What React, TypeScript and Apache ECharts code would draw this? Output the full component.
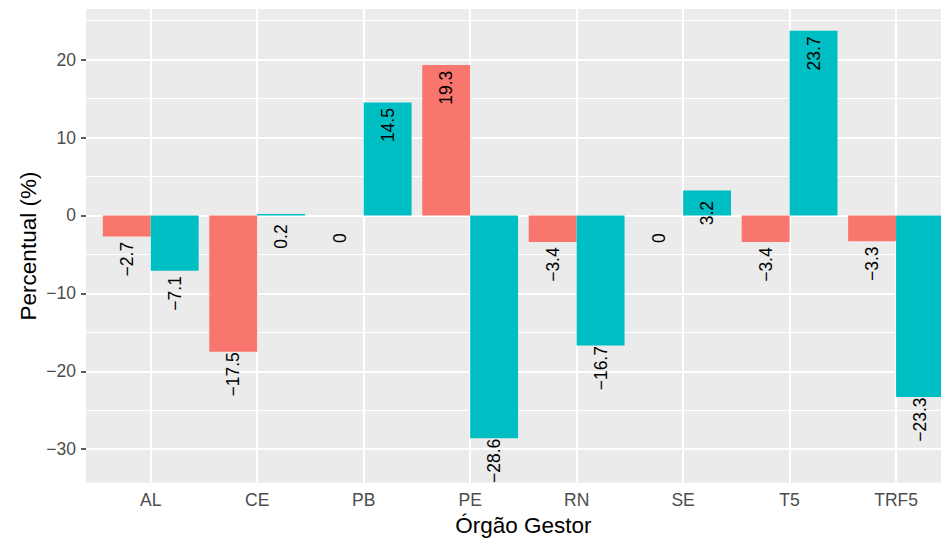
import React, { useEffect, useRef } from "react";
import * as echarts from "echarts";

const categories = ["AL", "CE", "PB", "PE", "RN", "SE", "T5", "TRF5"];
const seriesRed = [-2.7, -17.5, 0, 19.3, -3.4, 0, -3.4, -3.3];
const seriesTeal = [-7.1, 0.2, 14.5, -28.6, -16.7, 3.2, 23.7, -23.3];
const majorTicks = [-30, -20, -10, 0, 10, 20];
const minorTicks = [-25, -15, -5, 5, 15, 25];
const Y_MIN = -34.3;
const Y_MAX = 26.5;
const LABEL_NUDGE = 2.9;

const FONT = "'Liberation Sans', Arial, Helvetica, sans-serif";
const fmt = (v: number) => (v < 0 ? "\u2212" + Math.abs(v) : String(v));

export default function App() {
  const ref = useRef<HTMLDivElement>(null);
  useEffect(() => {
    if (!ref.current) return;
    const chart = echarts.init(ref.current, null, { renderer: "svg" });
    const labelData: number[][] = [];
    seriesRed.forEach((v, i) => labelData.push([i, v, 0]));
    seriesTeal.forEach((v, i) => labelData.push([i, v, 1]));

    const option: any = {
      animation: false,
      backgroundColor: "#FFFFFF",
      grid: [
        {
          left: 86,
          top: 9,
          right: -20,
          bottom: 57.3,
          show: true,
          backgroundColor: "#EBEBEB",
          borderWidth: 0,
          containLabel: false,
          outerBoundsMode: "none",
          z: 0,
        },
        {
          left: 97.5,
          top: 9,
          width: 851.8,
          bottom: 57.3,
          show: false,
          containLabel: false,
          outerBoundsMode: "none",
        },
      ],
      xAxis: [
        { gridIndex: 0, type: "value", min: 0, max: 1, show: false },
        {
          gridIndex: 1,
          type: "category",
          data: categories,
          boundaryGap: true,
          axisLine: { show: false },
          axisTick: {
            show: true,
            alignWithLabel: true,
            length: 4.5,
            lineStyle: { color: "#333333", width: 1.6 },
          },
          axisLabel: {
            color: "#4D4D4D",
            fontSize: 17.5,
            fontFamily: FONT,
            margin: 8,
          },
          splitLine: { show: false },
          name: "Órgão Gestor",
          nameLocation: "middle",
          nameGap: 27,
          nameTextStyle: { color: "#000000", fontSize: 22.5, fontFamily: FONT },
        },
      ],
      yAxis: [
        {
          gridIndex: 0,
          type: "value",
          min: Y_MIN,
          max: Y_MAX,
          axisLine: { show: false },
          axisTick: {
            show: true,
            length: 5,
            customValues: majorTicks,
            lineStyle: { color: "#333333", width: 1.6 },
          },
          axisLabel: {
            show: true,
            customValues: majorTicks,
            color: "#4D4D4D",
            fontSize: 17.5,
            fontFamily: FONT,
            margin: 10,
            formatter: (v: number) => fmt(v),
          },
          splitLine: { show: false },
        },
        { gridIndex: 1, type: "value", min: Y_MIN, max: Y_MAX, show: false },
      ],
      graphic: [
        {
          type: "text",
          x: 28,
          y: 246,
          rotation: Math.PI / 2,
          style: {
            text: "Percentual (%)",
            x: 0,
            y: 0,
            align: "center",
            verticalAlign: "middle",
            fill: "#000000",
            fontSize: 22.5,
            fontFamily: FONT,
          },
        },
      ],
      series: [
        {
          type: "line",
          xAxisIndex: 0,
          yAxisIndex: 0,
          data: [],
          z: 1,
          silent: true,
          markLine: {
            silent: true,
            z: 1,
            symbol: ["none", "none"],
            label: { show: false },
            animation: false,
            data: [
              ...minorTicks.map((v) => ({
                yAxis: v,
                lineStyle: { color: "#FFFFFF", width: 1, type: "solid" },
              })),
              ...majorTicks.map((v) => ({
                yAxis: v,
                lineStyle: { color: "#FFFFFF", width: 2, type: "solid" },
              })),
            ],
          },
        },
        {
          type: "line",
          xAxisIndex: 1,
          yAxisIndex: 1,
          data: [],
          z: 1,
          silent: true,
          markLine: {
            silent: true,
            z: 1,
            symbol: ["none", "none"],
            label: { show: false },
            animation: false,
            data: categories.map((c) => ({
              xAxis: c,
              lineStyle: { color: "#FFFFFF", width: 2, type: "solid" },
            })),
          },
        },
        {
          name: "Série 1",
          type: "bar",
          xAxisIndex: 1,
          yAxisIndex: 1,
          data: seriesRed,
          itemStyle: { color: "#F8766D" },
          barGap: "0%",
          barCategoryGap: "10%",
          z: 10,
        },
        {
          name: "Série 2",
          type: "bar",
          xAxisIndex: 1,
          yAxisIndex: 1,
          data: seriesTeal,
          itemStyle: { color: "#00BFC4" },
          barGap: "0%",
          barCategoryGap: "10%",
          z: 10,
        },
        {
          type: "custom",
          xAxisIndex: 1,
          yAxisIndex: 1,
          data: labelData,
          clip: false,
          z: 12,
          silent: true,
          renderItem: (params: any, api: any) => {
            const i = api.value(0);
            const v = api.value(1);
            const s = api.value(2);
            const bw = api.size([1, 0])[0];
            const c = api.coord([i, v - LABEL_NUDGE]);
            const x = c[0] + (s === 0 ? -1 : 1) * bw * 0.225;
            return {
              type: "text",
              x,
              y: c[1],
              rotation: Math.PI / 2,
              style: {
                text: fmt(v),
                x: 0,
                y: 0,
                align: "center",
                verticalAlign: "middle",
                fill: "#000000",
                fontSize: 17.5,
                fontFamily: FONT,
              },
            };
          },
        },
      ],
    };
    chart.setOption(option);
    return () => chart.dispose();
  }, []);
  return (
    <div
      ref={ref}
      style={{ position: "fixed", left: 0, top: 0, width: 941, height: 540 }}
    />
  );
}
